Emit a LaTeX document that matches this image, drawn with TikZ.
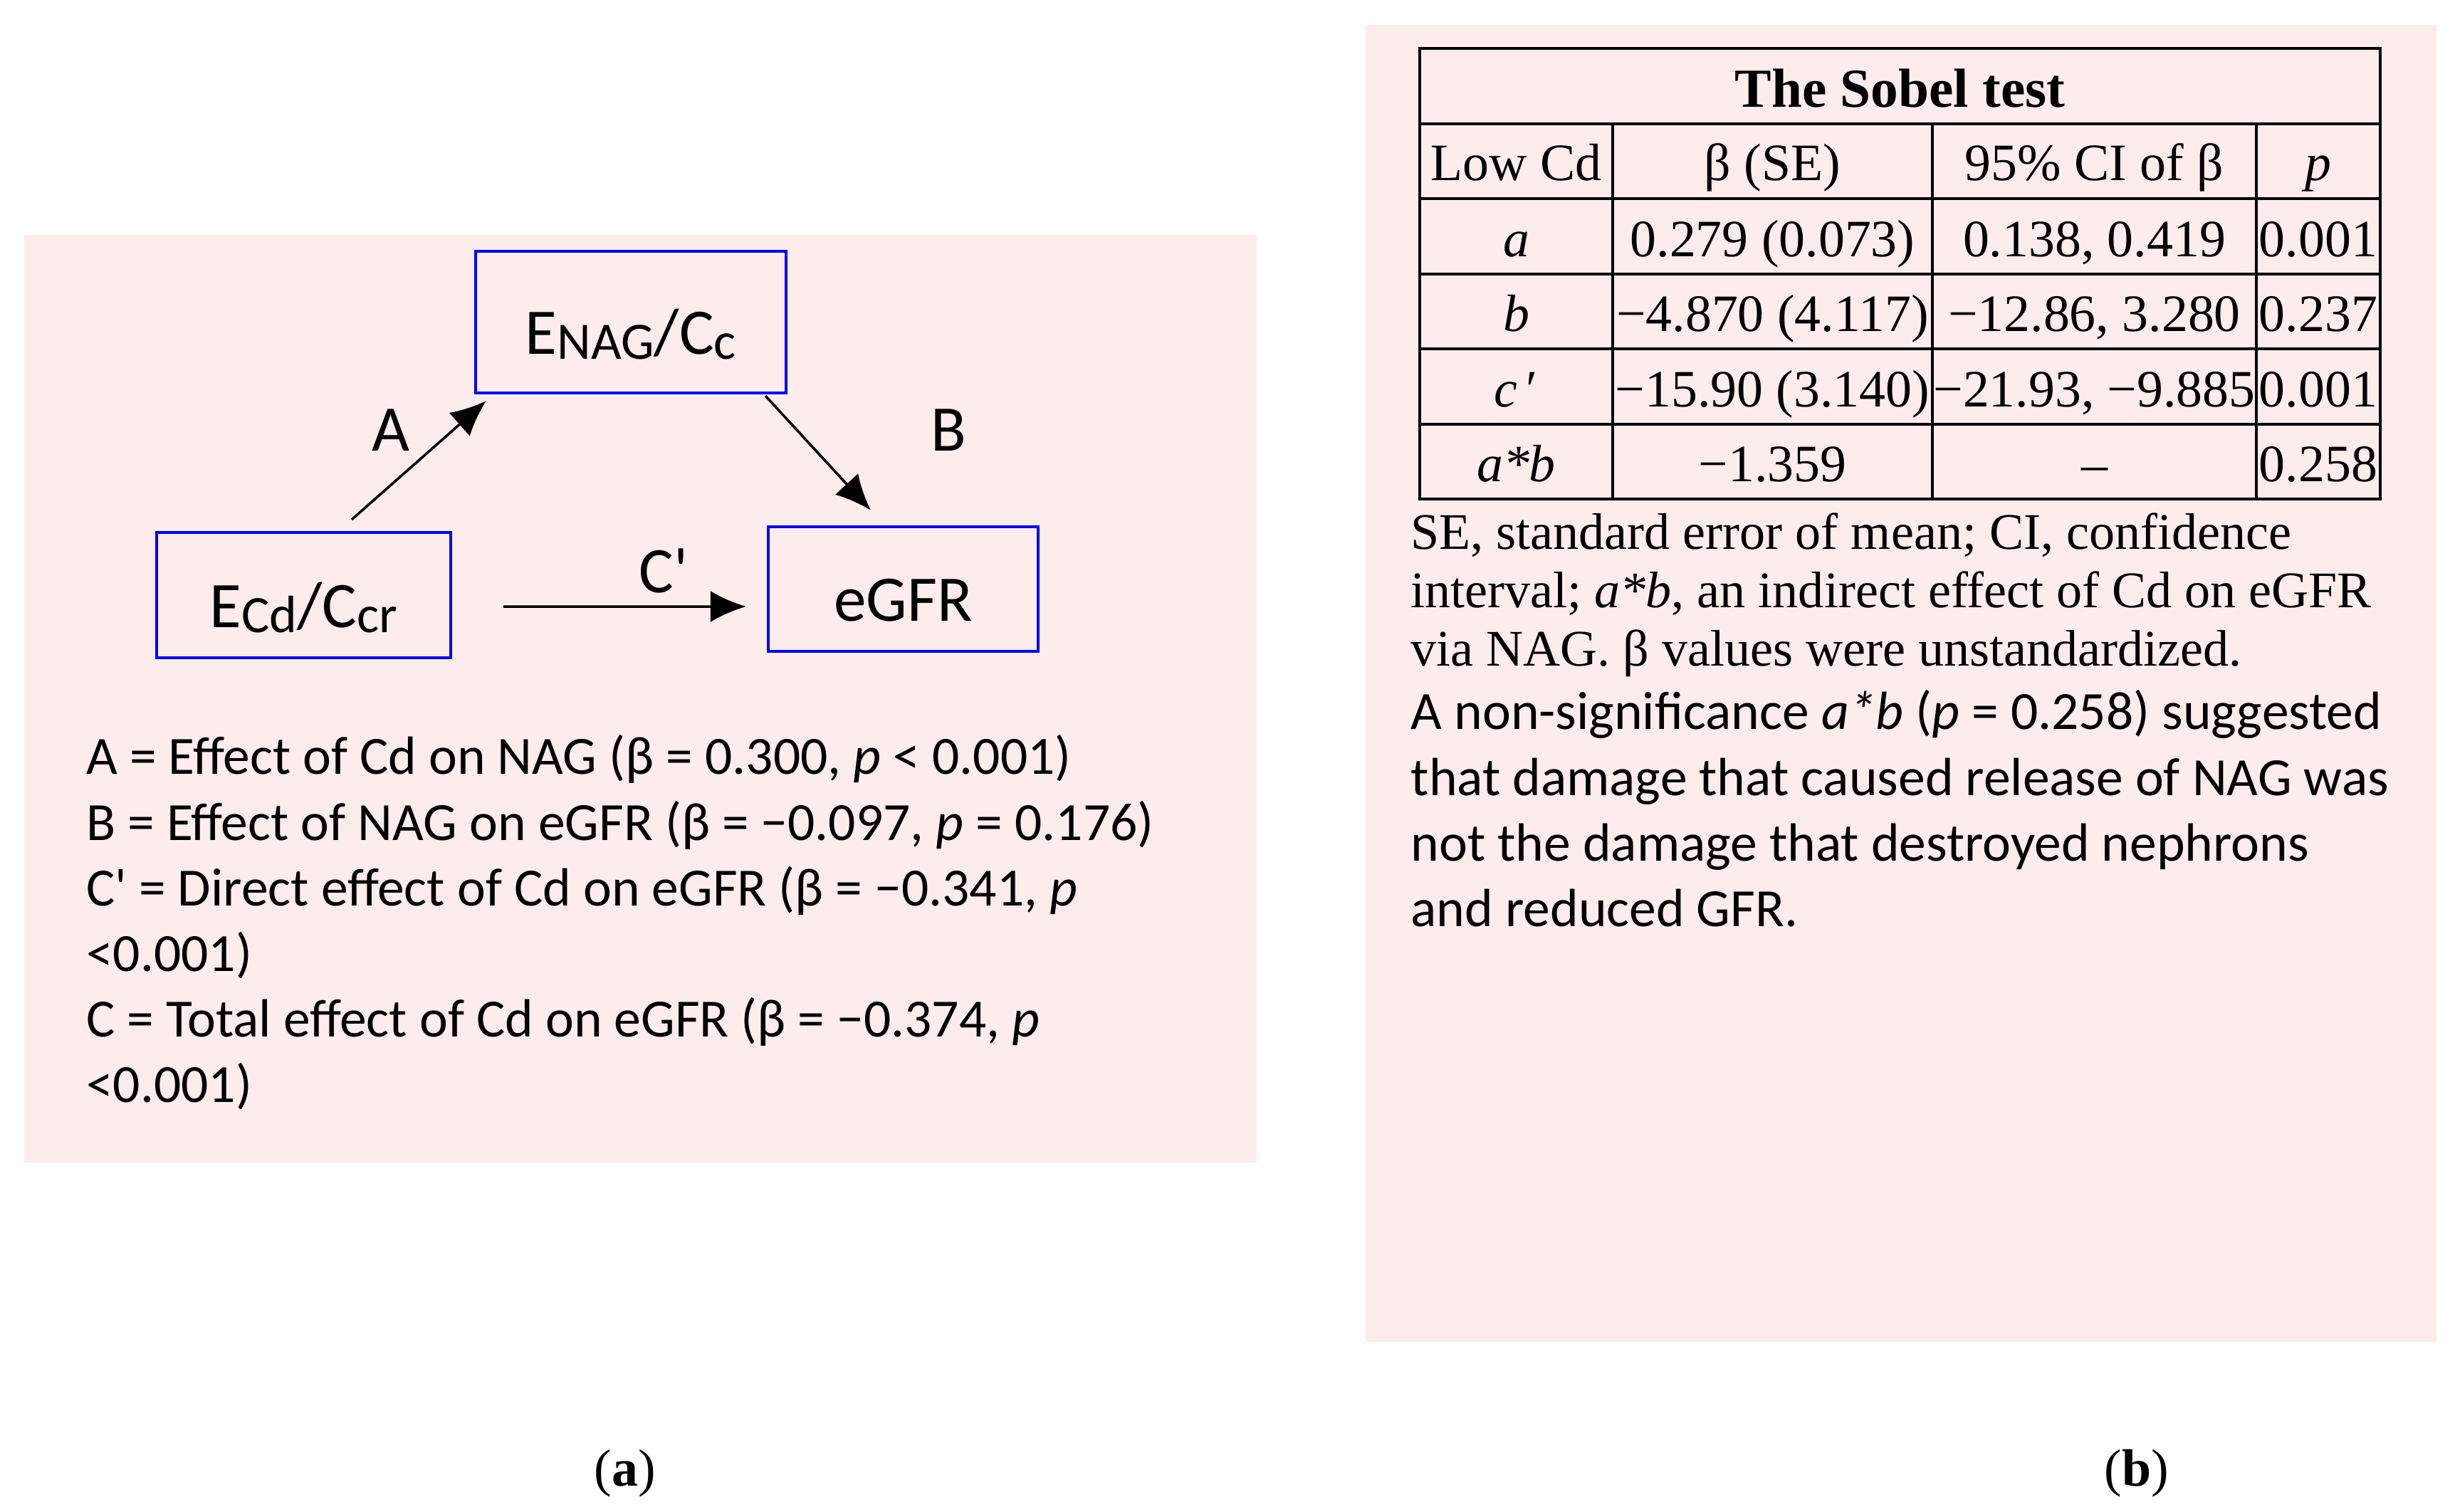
\documentclass[tikz,border=0pt]{standalone}
\usepackage{fontspec}
\setmainfont{Liberation Serif}
\newfontfamily\calibri{Carlito}
\usepackage{tikz}
\usetikzlibrary{arrows.meta,positioning}
\definecolor{PanelPink}{HTML}{FDECEC}
\definecolor{BoxBlue}{HTML}{0000FF}
\newcommand\lowsub[1]{\raisebox{-0.7mm}{\fontsize{21}{25}\selectfont #1}}
\tikzset{
  panel/.style={fill=PanelPink,draw=none},
  varbox/.style={draw=BoxBlue,line width=1.2pt,inner sep=0pt,text height=9mm,text depth=0pt,
    font=\calibri\fontsize{26}{30}\selectfont},
  effect/.style={-{Latex[length=5mm,width=4.4mm]},line width=1pt,draw=black},
  effectlabel/.style={inner sep=0pt,font=\calibri\fontsize{26}{30}\selectfont},
  legend/.style={align=left,anchor=north west,inner sep=0pt,font=\calibri\fontsize{21.5}{26.2}\selectfont},
  note/.style={align=left,anchor=north west,inner sep=0pt,font=\fontsize{20.5}{23.4}\selectfont},
  tabrule/.style={line width=1.1pt,draw=black},
  cell/.style={anchor=base,inner sep=0pt,font=\fontsize{21}{25}\selectfont},
  sublabel/.style={inner sep=0pt,font=\fontsize{21}{25}\selectfont}
}
\begin{document}
\begin{tikzpicture}
  \useasboundingbox (0,0) rectangle (34.48,-21.24);
  % panel backgrounds
  \fill[panel] (0.34,-3.30) rectangle (17.65,-16.33);
  \fill[panel] (19.18,-0.35) rectangle (34.22,-18.85);

  % (a) mediation diagram
  \node[varbox,minimum width=4.36cm,minimum height=1.99cm] (nag) at (8.86,-4.525) {E\lowsub{NAG}/C\lowsub{c}};
  \node[varbox,minimum width=4.13cm,minimum height=1.76cm] (cd) at (4.265,-8.36) {E\lowsub{Cd}/C\lowsub{cr}};
  \node[varbox,minimum width=3.79cm,minimum height=1.75cm] (egfr) at (12.685,-8.275) {eGFR};
  \draw[effect] ([xshift=6.75mm,yshift=1.6mm]cd.north) -- ([xshift=1.7mm,yshift=-0.9mm]nag.south west);
  \draw[effect] ([xshift=-3.1mm,yshift=-0.2mm]nag.south east) -- ([xshift=-4.55mm,yshift=2.1mm]egfr.north);
  \draw[effect] ([xshift=7.2mm,yshift=-1.6mm]cd.east) -- ([xshift=-2.9mm,yshift=-2.45mm]egfr.west);
  \node[effectlabel] (lblA) at (5.49,-6.04) {A};
  \node[effectlabel] (lblB) at (13.32,-6.04) {B};
  \node[effectlabel] (lblC) at (9.32,-8.02) {C\textquotesingle};
  \node[legend] (effects) at (1.205,-10.32) {A = Effect of Cd on NAG (β = 0.300, \textit{p} < 0.001)\\
    B = Effect of NAG on eGFR (β = −0.097, \textit{p} = 0.176)\\
    C\textquotesingle{} = Direct effect of Cd on eGFR (β = −0.341, \textit{p}\\
    <0.001)\\
    C = Total effect of Cd on eGFR (β = −0.374, \textit{p}\\
    <0.001)};

  % (b) Sobel test table
  \draw[tabrule] (19.94,-0.68) rectangle (33.43,-7.01);
  \draw[tabrule] (19.94,-1.74) -- (33.43,-1.74);
  \draw[tabrule] (19.94,-2.79) -- (33.43,-2.79);
  \draw[tabrule] (19.94,-3.85) -- (33.43,-3.85);
  \draw[tabrule] (19.94,-4.90) -- (33.43,-4.90);
  \draw[tabrule] (19.94,-5.96) -- (33.43,-5.96);
  \draw[tabrule] (22.65,-1.74) -- (22.65,-7.01);
  \draw[tabrule] (27.14,-1.74) -- (27.14,-7.01);
  \draw[tabrule] (31.69,-1.74) -- (31.69,-7.01);
  \node[cell,font=\bfseries\fontsize{22}{26}\selectfont] (title) at (26.685,-1.50) {The Sobel test};
  \node[cell] (hlow) at (21.295,-2.53) {Low Cd};
  \node[cell] (hbeta) at (24.895,-2.53) {β (SE)};
  \node[cell] (hci) at (29.415,-2.53) {95\% CI of β};
  \node[cell] (hp) at (32.56,-2.53) {\textit{p}};
  \node[cell] (rowa) at (21.295,-3.60) {\textit{a}};
  \node[cell] (betaa) at (24.895,-3.60) {0.279 (0.073)};
  \node[cell] (cia) at (29.415,-3.60) {0.138, 0.419};
  \node[cell] (pa) at (32.56,-3.60) {0.001};
  \node[cell] (rowb) at (21.295,-4.65) {\textit{b}};
  \node[cell] (betab) at (24.895,-4.65) {−4.870 (4.117)};
  \node[cell] (cib) at (29.415,-4.65) {−12.86, 3.280};
  \node[cell] (pb) at (32.56,-4.65) {0.237};
  \node[cell] (rowc) at (21.295,-5.71) {\textit{c}\,′};
  \node[cell] (betac) at (24.895,-5.71) {−15.90 (3.140)};
  \node[cell] (cic) at (29.415,-5.71) {−21.93, −9.885};
  \node[cell] (pc) at (32.56,-5.71) {0.001};
  \node[cell] (rowab) at (21.295,-6.76) {\textit{a*b}};
  \node[cell] (betaab) at (24.895,-6.76) {−1.359};
  \node[cell] (ciab) at (29.415,-6.76) {–};
  \node[cell] (pab) at (32.56,-6.76) {0.258};
  \node[note] (abbrev) at (19.81,-7.20) {SE, standard error of mean; CI, confidence\\
    interval; \textit{a*b}, an indirect effect of Cd on eGFR\\
    via NAG. β values were unstandardized.};
  \node[legend] (finding) at (19.81,-9.69) {A non-significance \textit{a*b} (\textit{p} = 0.258) suggested\\
    that damage that caused release of NAG was\\
    not the damage that destroyed nephrons\\
    and reduced GFR.};

  % panel tags
  \node[sublabel] (tagA) at (8.78,-20.70) {(\textbf{a})};
  \node[sublabel] (tagB) at (30.01,-20.70) {(\textbf{b})};
\end{tikzpicture}
\end{document}
